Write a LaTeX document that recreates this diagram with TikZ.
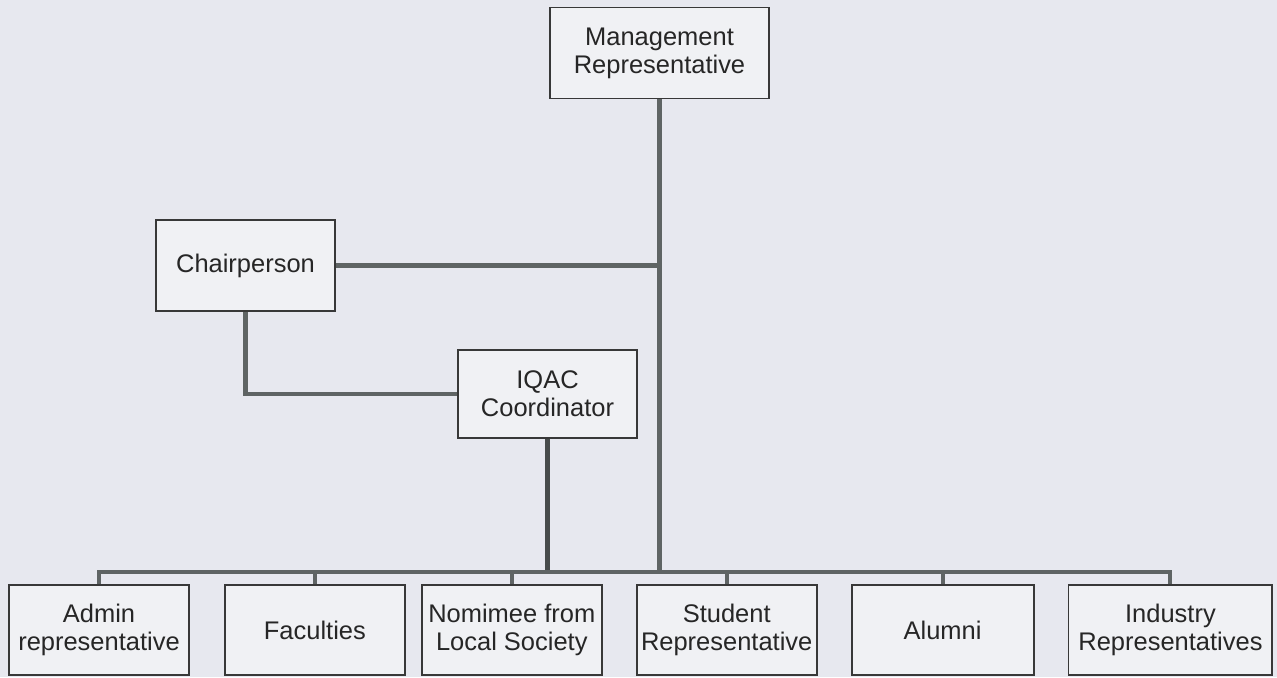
\documentclass[tikz,border=0pt]{standalone}
\usepackage{fontspec}
\setmainfont{Liberation Sans}
\usetikzlibrary{positioning}

\definecolor{paper}{HTML}{E7E8EF}
\definecolor{boxfill}{HTML}{F0F1F4}
\definecolor{wire}{HTML}{5F6464}
\definecolor{rim}{HTML}{383838}

\begin{document}
\begin{tikzpicture}[x=0.02cm,y=-0.02cm,
  member/.style={draw=rim,line width=1.1pt,fill=boxfill,align=center,inner sep=0pt,
    minimum width=3.6cm,minimum height=1.8cm,text=black!85,
    font=\fontsize{14.5}{16}\selectfont},
  link/.style={draw=wire,line width=2.3pt},
  vh/.style={to path={|- (\tikztotarget)}}]

\fill[paper] (0,0) rectangle (1277,677);
\useasboundingbox (0,0) rectangle (1277,677);

\node[member, minimum width=4.38cm, minimum height=1.82cm] (M) at (659.5,53)  {Management\\Representative};
\node[member, minimum width=3.58cm, minimum height=1.82cm] (C) at (245.5,265.5) {Chairperson};
\node[member, minimum width=3.58cm, minimum height=1.76cm] (Q) at (547.5,394) {IQAC\\Coordinator};

\node[member] (B1) at (99,630)          {Admin\\representative};
\node[member] (B2) [right=0.68cm of B1] {Faculties};
\node[member] (B3) [right=0.30cm of B2] {Nomimee from\\Local Society};
\node[member] (B4) [right=0.66cm of B3] {Student\\Representative};
\node[member, minimum width=3.64cm] (B5) [right=0.66cm of B4] {Alumni};
\node[member, minimum width=4.08cm] (B6) [right=0.66cm of B5] {Industry\\Representatives};

\coordinate (bus) at (0,572);

\path[link]
	(M.south) edge (M.south |- bus)
	(C.east) edge (C.east -| M.south)
	(C.south) edge[vh] (Q.west);

\path[link]
	(Q.south) edge[line width=3.4pt, draw=wire!75!black] (Q.south |- bus);

\path[link]
	(B1.north |- bus) edge[line cap=rect] (B6.north |- bus);

\path[link]
	(B1.north) edge (B1.north |- bus)
	(B2.north) edge (B2.north |- bus)
	(B3.north) edge (B3.north |- bus)
	(B4.north) edge (B4.north |- bus)
	(B5.north) edge (B5.north |- bus)
	(B6.north) edge (B6.north |- bus);

\end{tikzpicture}
\end{document}
